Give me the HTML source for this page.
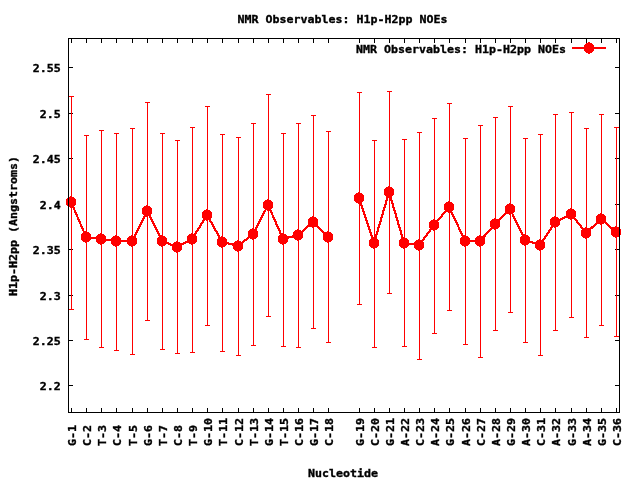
<!DOCTYPE html>
<html lang="en"><head><meta charset="utf-8"><title>NMR Observables: H1p-H2pp NOEs</title>
<style>html,body{margin:0;padding:0;background:#fff;overflow:hidden}svg{display:block}text{font-family:"DejaVu Sans Mono", "Liberation Mono", monospace;font-size:11px;font-weight:bold;fill:#000;stroke:#000;stroke-width:0.35px;stroke-linejoin:miter;}</style></head><body>
<svg width="640" height="480" viewBox="0 0 640 480" role="img" aria-label="NMR Observables: H1p-H2pp NOEs">
<rect width="640" height="480" fill="#fff"/>
<g fill="#000" shape-rendering="crispEdges">
<rect x="71" y="39" width="1" height="4"/>
<rect x="71" y="408" width="1" height="4"/>
<rect x="86" y="39" width="1" height="4"/>
<rect x="86" y="408" width="1" height="4"/>
<rect x="101" y="39" width="1" height="4"/>
<rect x="101" y="408" width="1" height="4"/>
<rect x="116" y="39" width="1" height="4"/>
<rect x="116" y="408" width="1" height="4"/>
<rect x="132" y="39" width="1" height="4"/>
<rect x="132" y="408" width="1" height="4"/>
<rect x="147" y="39" width="1" height="4"/>
<rect x="147" y="408" width="1" height="4"/>
<rect x="162" y="39" width="1" height="4"/>
<rect x="162" y="408" width="1" height="4"/>
<rect x="177" y="39" width="1" height="4"/>
<rect x="177" y="408" width="1" height="4"/>
<rect x="192" y="39" width="1" height="4"/>
<rect x="192" y="408" width="1" height="4"/>
<rect x="207" y="39" width="1" height="4"/>
<rect x="207" y="408" width="1" height="4"/>
<rect x="222" y="39" width="1" height="4"/>
<rect x="222" y="408" width="1" height="4"/>
<rect x="238" y="39" width="1" height="4"/>
<rect x="238" y="408" width="1" height="4"/>
<rect x="253" y="39" width="1" height="4"/>
<rect x="253" y="408" width="1" height="4"/>
<rect x="268" y="39" width="1" height="4"/>
<rect x="268" y="408" width="1" height="4"/>
<rect x="283" y="39" width="1" height="4"/>
<rect x="283" y="408" width="1" height="4"/>
<rect x="298" y="39" width="1" height="4"/>
<rect x="298" y="408" width="1" height="4"/>
<rect x="313" y="39" width="1" height="4"/>
<rect x="313" y="408" width="1" height="4"/>
<rect x="328" y="39" width="1" height="4"/>
<rect x="328" y="408" width="1" height="4"/>
<rect x="359" y="39" width="1" height="4"/>
<rect x="359" y="408" width="1" height="4"/>
<rect x="374" y="39" width="1" height="4"/>
<rect x="374" y="408" width="1" height="4"/>
<rect x="389" y="39" width="1" height="4"/>
<rect x="389" y="408" width="1" height="4"/>
<rect x="404" y="39" width="1" height="4"/>
<rect x="404" y="408" width="1" height="4"/>
<rect x="419" y="39" width="1" height="4"/>
<rect x="419" y="408" width="1" height="4"/>
<rect x="434" y="39" width="1" height="4"/>
<rect x="434" y="408" width="1" height="4"/>
<rect x="449" y="39" width="1" height="4"/>
<rect x="449" y="408" width="1" height="4"/>
<rect x="465" y="39" width="1" height="4"/>
<rect x="465" y="408" width="1" height="4"/>
<rect x="480" y="39" width="1" height="4"/>
<rect x="480" y="408" width="1" height="4"/>
<rect x="495" y="39" width="1" height="4"/>
<rect x="495" y="408" width="1" height="4"/>
<rect x="510" y="39" width="1" height="4"/>
<rect x="510" y="408" width="1" height="4"/>
<rect x="525" y="39" width="1" height="4"/>
<rect x="525" y="408" width="1" height="4"/>
<rect x="540" y="39" width="1" height="4"/>
<rect x="540" y="408" width="1" height="4"/>
<rect x="555" y="39" width="1" height="4"/>
<rect x="555" y="408" width="1" height="4"/>
<rect x="571" y="39" width="1" height="4"/>
<rect x="571" y="408" width="1" height="4"/>
<rect x="586" y="39" width="1" height="4"/>
<rect x="586" y="408" width="1" height="4"/>
<rect x="601" y="39" width="1" height="4"/>
<rect x="601" y="408" width="1" height="4"/>
<rect x="616" y="39" width="1" height="4"/>
<rect x="616" y="408" width="1" height="4"/>
<rect x="69" y="67" width="4" height="1"/>
<rect x="615" y="67" width="4" height="1"/>
<rect x="69" y="113" width="4" height="1"/>
<rect x="615" y="113" width="4" height="1"/>
<rect x="69" y="158" width="4" height="1"/>
<rect x="615" y="158" width="4" height="1"/>
<rect x="69" y="204" width="4" height="1"/>
<rect x="615" y="204" width="4" height="1"/>
<rect x="69" y="249" width="4" height="1"/>
<rect x="615" y="249" width="4" height="1"/>
<rect x="69" y="295" width="4" height="1"/>
<rect x="615" y="295" width="4" height="1"/>
<rect x="69" y="340" width="4" height="1"/>
<rect x="615" y="340" width="4" height="1"/>
<rect x="69" y="385" width="4" height="1"/>
<rect x="615" y="385" width="4" height="1"/>
</g>
<g fill="#f00" stroke="none" shape-rendering="crispEdges">
<rect x="71" y="96" width="1" height="214"/>
<rect x="69" y="96" width="5" height="1"/>
<rect x="69" y="309" width="5" height="1"/>
<rect x="86" y="135" width="1" height="205"/>
<rect x="84" y="135" width="5" height="1"/>
<rect x="84" y="339" width="5" height="1"/>
<rect x="101" y="130" width="1" height="218"/>
<rect x="99" y="130" width="5" height="1"/>
<rect x="99" y="347" width="5" height="1"/>
<rect x="116" y="133" width="1" height="218"/>
<rect x="114" y="133" width="5" height="1"/>
<rect x="114" y="350" width="5" height="1"/>
<rect x="132" y="128" width="1" height="227"/>
<rect x="130" y="128" width="5" height="1"/>
<rect x="130" y="354" width="5" height="1"/>
<rect x="147" y="102" width="1" height="219"/>
<rect x="145" y="102" width="5" height="1"/>
<rect x="145" y="320" width="5" height="1"/>
<rect x="162" y="133" width="1" height="217"/>
<rect x="160" y="133" width="5" height="1"/>
<rect x="160" y="349" width="5" height="1"/>
<rect x="177" y="140" width="1" height="214"/>
<rect x="175" y="140" width="5" height="1"/>
<rect x="175" y="353" width="5" height="1"/>
<rect x="192" y="127" width="1" height="226"/>
<rect x="190" y="127" width="5" height="1"/>
<rect x="190" y="352" width="5" height="1"/>
<rect x="207" y="106" width="1" height="220"/>
<rect x="205" y="106" width="5" height="1"/>
<rect x="205" y="325" width="5" height="1"/>
<rect x="222" y="134" width="1" height="218"/>
<rect x="220" y="134" width="5" height="1"/>
<rect x="220" y="351" width="5" height="1"/>
<rect x="238" y="137" width="1" height="219"/>
<rect x="236" y="137" width="5" height="1"/>
<rect x="236" y="355" width="5" height="1"/>
<rect x="253" y="123" width="1" height="223"/>
<rect x="251" y="123" width="5" height="1"/>
<rect x="251" y="345" width="5" height="1"/>
<rect x="268" y="94" width="1" height="223"/>
<rect x="266" y="94" width="5" height="1"/>
<rect x="266" y="316" width="5" height="1"/>
<rect x="283" y="133" width="1" height="214"/>
<rect x="281" y="133" width="5" height="1"/>
<rect x="281" y="346" width="5" height="1"/>
<rect x="298" y="123" width="1" height="225"/>
<rect x="296" y="123" width="5" height="1"/>
<rect x="296" y="347" width="5" height="1"/>
<rect x="313" y="115" width="1" height="214"/>
<rect x="311" y="115" width="5" height="1"/>
<rect x="311" y="328" width="5" height="1"/>
<rect x="328" y="131" width="1" height="212"/>
<rect x="326" y="131" width="5" height="1"/>
<rect x="326" y="342" width="5" height="1"/>
<rect x="359" y="92" width="1" height="213"/>
<rect x="357" y="92" width="5" height="1"/>
<rect x="357" y="304" width="5" height="1"/>
<rect x="374" y="140" width="1" height="208"/>
<rect x="372" y="140" width="5" height="1"/>
<rect x="372" y="347" width="5" height="1"/>
<rect x="389" y="91" width="1" height="203"/>
<rect x="387" y="91" width="5" height="1"/>
<rect x="387" y="293" width="5" height="1"/>
<rect x="404" y="139" width="1" height="208"/>
<rect x="402" y="139" width="5" height="1"/>
<rect x="402" y="346" width="5" height="1"/>
<rect x="419" y="132" width="1" height="228"/>
<rect x="417" y="132" width="5" height="1"/>
<rect x="417" y="359" width="5" height="1"/>
<rect x="434" y="118" width="1" height="216"/>
<rect x="432" y="118" width="5" height="1"/>
<rect x="432" y="333" width="5" height="1"/>
<rect x="449" y="103" width="1" height="208"/>
<rect x="447" y="103" width="5" height="1"/>
<rect x="447" y="310" width="5" height="1"/>
<rect x="465" y="138" width="1" height="207"/>
<rect x="463" y="138" width="5" height="1"/>
<rect x="463" y="344" width="5" height="1"/>
<rect x="480" y="125" width="1" height="233"/>
<rect x="478" y="125" width="5" height="1"/>
<rect x="478" y="357" width="5" height="1"/>
<rect x="495" y="117" width="1" height="214"/>
<rect x="493" y="117" width="5" height="1"/>
<rect x="493" y="330" width="5" height="1"/>
<rect x="510" y="106" width="1" height="207"/>
<rect x="508" y="106" width="5" height="1"/>
<rect x="508" y="312" width="5" height="1"/>
<rect x="525" y="138" width="1" height="205"/>
<rect x="523" y="138" width="5" height="1"/>
<rect x="523" y="342" width="5" height="1"/>
<rect x="540" y="134" width="1" height="222"/>
<rect x="538" y="134" width="5" height="1"/>
<rect x="538" y="355" width="5" height="1"/>
<rect x="555" y="114" width="1" height="217"/>
<rect x="553" y="114" width="5" height="1"/>
<rect x="553" y="330" width="5" height="1"/>
<rect x="571" y="112" width="1" height="206"/>
<rect x="569" y="112" width="5" height="1"/>
<rect x="569" y="317" width="5" height="1"/>
<rect x="586" y="128" width="1" height="210"/>
<rect x="584" y="128" width="5" height="1"/>
<rect x="584" y="337" width="5" height="1"/>
<rect x="601" y="114" width="1" height="212"/>
<rect x="599" y="114" width="5" height="1"/>
<rect x="599" y="325" width="5" height="1"/>
<rect x="616" y="127" width="1" height="210"/>
<rect x="614" y="127" width="5" height="1"/>
<rect x="614" y="336" width="5" height="1"/>
</g>
<g fill="none" stroke="#f00" stroke-width="2.2" stroke-linejoin="round" shape-rendering="crispEdges">
<polyline points="71.1,202 86.1,237 101.1,239 116.1,241 132.1,241 147.1,211 162.1,241 177.1,247 192.1,239 207.1,215 222.1,242 238.1,246 253.1,234 268.1,205 283.1,239 298.1,235 313.1,222 328.1,237"/>
<polyline points="359.1,198 374.1,243 389.1,192 404.1,243 419.1,245 434.1,225 449.1,207 465.1,241 480.1,241 495.1,224 510.1,209 525.1,240 540.1,245 555.1,222 571.1,214 586.1,233 601.1,219 616.1,232"/>
<line x1="572" y1="48" x2="606" y2="48" stroke-width="2"/>
</g>
<g fill="#f00" shape-rendering="crispEdges">
<path d="M71,202m-1,-6h2v1h2v1h1v1h1v6h-1v1h-1v1h-2v1h-2v-1h-2v-1h-1v-1h-1v-6h1v-1h1v-1h2z"/>
<path d="M86,237m-1,-6h2v1h2v1h1v1h1v6h-1v1h-1v1h-2v1h-2v-1h-2v-1h-1v-1h-1v-6h1v-1h1v-1h2z"/>
<path d="M101,239m-1,-6h2v1h2v1h1v1h1v6h-1v1h-1v1h-2v1h-2v-1h-2v-1h-1v-1h-1v-6h1v-1h1v-1h2z"/>
<path d="M116,241m-1,-6h2v1h2v1h1v1h1v6h-1v1h-1v1h-2v1h-2v-1h-2v-1h-1v-1h-1v-6h1v-1h1v-1h2z"/>
<path d="M132,241m-1,-6h2v1h2v1h1v1h1v6h-1v1h-1v1h-2v1h-2v-1h-2v-1h-1v-1h-1v-6h1v-1h1v-1h2z"/>
<path d="M147,211m-1,-6h2v1h2v1h1v1h1v6h-1v1h-1v1h-2v1h-2v-1h-2v-1h-1v-1h-1v-6h1v-1h1v-1h2z"/>
<path d="M162,241m-1,-6h2v1h2v1h1v1h1v6h-1v1h-1v1h-2v1h-2v-1h-2v-1h-1v-1h-1v-6h1v-1h1v-1h2z"/>
<path d="M177,247m-1,-6h2v1h2v1h1v1h1v6h-1v1h-1v1h-2v1h-2v-1h-2v-1h-1v-1h-1v-6h1v-1h1v-1h2z"/>
<path d="M192,239m-1,-6h2v1h2v1h1v1h1v6h-1v1h-1v1h-2v1h-2v-1h-2v-1h-1v-1h-1v-6h1v-1h1v-1h2z"/>
<path d="M207,215m-1,-6h2v1h2v1h1v1h1v6h-1v1h-1v1h-2v1h-2v-1h-2v-1h-1v-1h-1v-6h1v-1h1v-1h2z"/>
<path d="M222,242m-1,-6h2v1h2v1h1v1h1v6h-1v1h-1v1h-2v1h-2v-1h-2v-1h-1v-1h-1v-6h1v-1h1v-1h2z"/>
<path d="M238,246m-1,-6h2v1h2v1h1v1h1v6h-1v1h-1v1h-2v1h-2v-1h-2v-1h-1v-1h-1v-6h1v-1h1v-1h2z"/>
<path d="M253,234m-1,-6h2v1h2v1h1v1h1v6h-1v1h-1v1h-2v1h-2v-1h-2v-1h-1v-1h-1v-6h1v-1h1v-1h2z"/>
<path d="M268,205m-1,-6h2v1h2v1h1v1h1v6h-1v1h-1v1h-2v1h-2v-1h-2v-1h-1v-1h-1v-6h1v-1h1v-1h2z"/>
<path d="M283,239m-1,-6h2v1h2v1h1v1h1v6h-1v1h-1v1h-2v1h-2v-1h-2v-1h-1v-1h-1v-6h1v-1h1v-1h2z"/>
<path d="M298,235m-1,-6h2v1h2v1h1v1h1v6h-1v1h-1v1h-2v1h-2v-1h-2v-1h-1v-1h-1v-6h1v-1h1v-1h2z"/>
<path d="M313,222m-1,-6h2v1h2v1h1v1h1v6h-1v1h-1v1h-2v1h-2v-1h-2v-1h-1v-1h-1v-6h1v-1h1v-1h2z"/>
<path d="M328,237m-1,-6h2v1h2v1h1v1h1v6h-1v1h-1v1h-2v1h-2v-1h-2v-1h-1v-1h-1v-6h1v-1h1v-1h2z"/>
<path d="M359,198m-1,-6h2v1h2v1h1v1h1v6h-1v1h-1v1h-2v1h-2v-1h-2v-1h-1v-1h-1v-6h1v-1h1v-1h2z"/>
<path d="M374,243m-1,-6h2v1h2v1h1v1h1v6h-1v1h-1v1h-2v1h-2v-1h-2v-1h-1v-1h-1v-6h1v-1h1v-1h2z"/>
<path d="M389,192m-1,-6h2v1h2v1h1v1h1v6h-1v1h-1v1h-2v1h-2v-1h-2v-1h-1v-1h-1v-6h1v-1h1v-1h2z"/>
<path d="M404,243m-1,-6h2v1h2v1h1v1h1v6h-1v1h-1v1h-2v1h-2v-1h-2v-1h-1v-1h-1v-6h1v-1h1v-1h2z"/>
<path d="M419,245m-1,-6h2v1h2v1h1v1h1v6h-1v1h-1v1h-2v1h-2v-1h-2v-1h-1v-1h-1v-6h1v-1h1v-1h2z"/>
<path d="M434,225m-1,-6h2v1h2v1h1v1h1v6h-1v1h-1v1h-2v1h-2v-1h-2v-1h-1v-1h-1v-6h1v-1h1v-1h2z"/>
<path d="M449,207m-1,-6h2v1h2v1h1v1h1v6h-1v1h-1v1h-2v1h-2v-1h-2v-1h-1v-1h-1v-6h1v-1h1v-1h2z"/>
<path d="M465,241m-1,-6h2v1h2v1h1v1h1v6h-1v1h-1v1h-2v1h-2v-1h-2v-1h-1v-1h-1v-6h1v-1h1v-1h2z"/>
<path d="M480,241m-1,-6h2v1h2v1h1v1h1v6h-1v1h-1v1h-2v1h-2v-1h-2v-1h-1v-1h-1v-6h1v-1h1v-1h2z"/>
<path d="M495,224m-1,-6h2v1h2v1h1v1h1v6h-1v1h-1v1h-2v1h-2v-1h-2v-1h-1v-1h-1v-6h1v-1h1v-1h2z"/>
<path d="M510,209m-1,-6h2v1h2v1h1v1h1v6h-1v1h-1v1h-2v1h-2v-1h-2v-1h-1v-1h-1v-6h1v-1h1v-1h2z"/>
<path d="M525,240m-1,-6h2v1h2v1h1v1h1v6h-1v1h-1v1h-2v1h-2v-1h-2v-1h-1v-1h-1v-6h1v-1h1v-1h2z"/>
<path d="M540,245m-1,-6h2v1h2v1h1v1h1v6h-1v1h-1v1h-2v1h-2v-1h-2v-1h-1v-1h-1v-6h1v-1h1v-1h2z"/>
<path d="M555,222m-1,-6h2v1h2v1h1v1h1v6h-1v1h-1v1h-2v1h-2v-1h-2v-1h-1v-1h-1v-6h1v-1h1v-1h2z"/>
<path d="M571,214m-1,-6h2v1h2v1h1v1h1v6h-1v1h-1v1h-2v1h-2v-1h-2v-1h-1v-1h-1v-6h1v-1h1v-1h2z"/>
<path d="M586,233m-1,-6h2v1h2v1h1v1h1v6h-1v1h-1v1h-2v1h-2v-1h-2v-1h-1v-1h-1v-6h1v-1h1v-1h2z"/>
<path d="M601,219m-1,-6h2v1h2v1h1v1h1v6h-1v1h-1v1h-2v1h-2v-1h-2v-1h-1v-1h-1v-6h1v-1h1v-1h2z"/>
<path d="M616,232m-1,-6h2v1h2v1h1v1h1v6h-1v1h-1v1h-2v1h-2v-1h-2v-1h-1v-1h-1v-6h1v-1h1v-1h2z"/>
<path d="M589,48m-1,-6h2v1h2v1h1v1h1v6h-1v1h-1v1h-2v1h-2v-1h-2v-1h-1v-1h-1v-6h1v-1h1v-1h2z"/>
</g>
<g fill="#000" shape-rendering="crispEdges">
<rect x="68" y="38" width="552" height="1"/>
<rect x="68" y="412" width="552" height="1"/>
<rect x="68" y="38" width="1" height="375"/>
<rect x="619" y="38" width="1" height="375"/>
</g>
<g>
<text transform="translate(237.5,23) scale(1.05699,1)" x="0 6.62 13.25 19.87 26.49 33.11 39.74 46.36 52.98 59.6 66.23 72.85 79.47 86.09 92.72 99.34 105.96 112.58 119.21 125.83 132.45 139.07 145.7 152.32 158.94 165.56 172.19 178.81 185.43 192.05">NMR Observables: H1p-H2pp NOEs</text>
<text transform="translate(356,53) scale(1.05699,1)" x="0 6.62 13.25 19.87 26.49 33.11 39.74 46.36 52.98 59.6 66.23 72.85 79.47 86.09 92.72 99.34 105.96 112.58 119.21 125.83 132.45 139.07 145.7 152.32 158.94 165.56 172.19 178.81 185.43 192.05">NMR Observables: H1p-H2pp NOEs</text>
<text transform="translate(32.7,72) scale(1.05699,1)" x="0 6.62 13.25 19.87">2.55</text>
<text transform="translate(39.7,118) scale(1.05699,1)" x="0 6.62 13.25">2.5</text>
<text transform="translate(32.7,163) scale(1.05699,1)" x="0 6.62 13.25 19.87">2.45</text>
<text transform="translate(39.7,209) scale(1.05699,1)" x="0 6.62 13.25">2.4</text>
<text transform="translate(32.7,254) scale(1.05699,1)" x="0 6.62 13.25 19.87">2.35</text>
<text transform="translate(39.7,300) scale(1.05699,1)" x="0 6.62 13.25">2.3</text>
<text transform="translate(32.7,345) scale(1.05699,1)" x="0 6.62 13.25 19.87">2.25</text>
<text transform="translate(39.7,390) scale(1.05699,1)" x="0 6.62 13.25">2.2</text>
<text transform="translate(76,446) rotate(-90) scale(1.05699,1)" x="0 6.62 13.25">G-1</text>
<text transform="translate(91,446) rotate(-90) scale(1.05699,1)" x="0 6.62 13.25">C-2</text>
<text transform="translate(106,446) rotate(-90) scale(1.05699,1)" x="0 6.62 13.25">T-3</text>
<text transform="translate(121,446) rotate(-90) scale(1.05699,1)" x="0 6.62 13.25">C-4</text>
<text transform="translate(137,446) rotate(-90) scale(1.05699,1)" x="0 6.62 13.25">T-5</text>
<text transform="translate(152,446) rotate(-90) scale(1.05699,1)" x="0 6.62 13.25">G-6</text>
<text transform="translate(167,446) rotate(-90) scale(1.05699,1)" x="0 6.62 13.25">T-7</text>
<text transform="translate(182,446) rotate(-90) scale(1.05699,1)" x="0 6.62 13.25">C-8</text>
<text transform="translate(197,446) rotate(-90) scale(1.05699,1)" x="0 6.62 13.25">T-9</text>
<text transform="translate(212,446) rotate(-90) scale(1.05699,1)" x="0 6.62 13.25 19.87">G-10</text>
<text transform="translate(227,446) rotate(-90) scale(1.05699,1)" x="0 6.62 13.25 19.87">T-11</text>
<text transform="translate(243,446) rotate(-90) scale(1.05699,1)" x="0 6.62 13.25 19.87">C-12</text>
<text transform="translate(258,446) rotate(-90) scale(1.05699,1)" x="0 6.62 13.25 19.87">T-13</text>
<text transform="translate(273,446) rotate(-90) scale(1.05699,1)" x="0 6.62 13.25 19.87">G-14</text>
<text transform="translate(288,446) rotate(-90) scale(1.05699,1)" x="0 6.62 13.25 19.87">T-15</text>
<text transform="translate(303,446) rotate(-90) scale(1.05699,1)" x="0 6.62 13.25 19.87">C-16</text>
<text transform="translate(318,446) rotate(-90) scale(1.05699,1)" x="0 6.62 13.25 19.87">G-17</text>
<text transform="translate(333,446) rotate(-90) scale(1.05699,1)" x="0 6.62 13.25 19.87">C-18</text>
<text transform="translate(364,446) rotate(-90) scale(1.05699,1)" x="0 6.62 13.25 19.87">G-19</text>
<text transform="translate(379,446) rotate(-90) scale(1.05699,1)" x="0 6.62 13.25 19.87">C-20</text>
<text transform="translate(394,446) rotate(-90) scale(1.05699,1)" x="0 6.62 13.25 19.87">G-21</text>
<text transform="translate(409,446) rotate(-90) scale(1.05699,1)" x="0 6.62 13.25 19.87">A-22</text>
<text transform="translate(424,446) rotate(-90) scale(1.05699,1)" x="0 6.62 13.25 19.87">C-23</text>
<text transform="translate(439,446) rotate(-90) scale(1.05699,1)" x="0 6.62 13.25 19.87">A-24</text>
<text transform="translate(454,446) rotate(-90) scale(1.05699,1)" x="0 6.62 13.25 19.87">G-25</text>
<text transform="translate(470,446) rotate(-90) scale(1.05699,1)" x="0 6.62 13.25 19.87">A-26</text>
<text transform="translate(485,446) rotate(-90) scale(1.05699,1)" x="0 6.62 13.25 19.87">C-27</text>
<text transform="translate(500,446) rotate(-90) scale(1.05699,1)" x="0 6.62 13.25 19.87">A-28</text>
<text transform="translate(515,446) rotate(-90) scale(1.05699,1)" x="0 6.62 13.25 19.87">G-29</text>
<text transform="translate(530,446) rotate(-90) scale(1.05699,1)" x="0 6.62 13.25 19.87">A-30</text>
<text transform="translate(545,446) rotate(-90) scale(1.05699,1)" x="0 6.62 13.25 19.87">C-31</text>
<text transform="translate(560,446) rotate(-90) scale(1.05699,1)" x="0 6.62 13.25 19.87">A-32</text>
<text transform="translate(576,446) rotate(-90) scale(1.05699,1)" x="0 6.62 13.25 19.87">G-33</text>
<text transform="translate(591,446) rotate(-90) scale(1.05699,1)" x="0 6.62 13.25 19.87">A-34</text>
<text transform="translate(606,446) rotate(-90) scale(1.05699,1)" x="0 6.62 13.25 19.87">G-35</text>
<text transform="translate(621,446) rotate(-90) scale(1.05699,1)" x="0 6.62 13.25 19.87">C-36</text>
<text transform="translate(308,477) scale(1.05699,1)" x="0 6.62 13.25 19.87 26.49 33.11 39.74 46.36 52.98 59.6">Nucleotide</text>
<text transform="translate(17,296) rotate(-90) scale(1.05699,1)" x="0 6.62 13.25 19.87 26.49 33.11 39.74 46.36 52.98 59.6 66.23 72.85 79.47 86.09 92.72 99.34 105.96 112.58 119.21 125.83">H1p-H2pp (Angstroms)</text>
</g>
</svg></body></html>
